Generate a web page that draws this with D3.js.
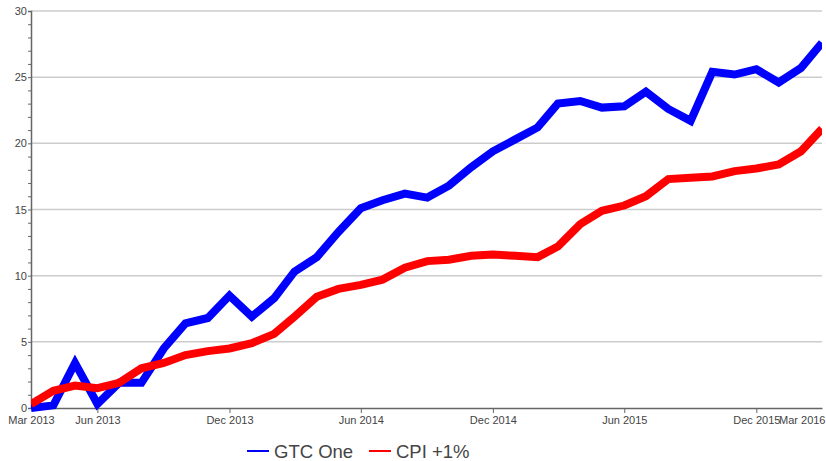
<!DOCTYPE html>
<html>
<head>
<meta charset="utf-8">
<script src="https://cdn.jsdelivr.net/npm/d3@7"></script>
<style>
  body { margin: 0; background: #fff; }
  svg { display: block; font-family: "Liberation Sans", Arial, sans-serif; }
</style>
</head>
<body>
<div id="chart"></div>
<script>
// monthly values, Mar 2013 .. Mar 2016
const startMonth = new Date(2013, 2, 1);
const gtcOne = [0.0, 0.2, 3.4, 0.3, 1.9, 1.9, 4.5, 6.4, 6.8, 8.5, 6.9, 8.3, 10.3, 11.4, 13.3, 15.1,
  15.7, 16.2, 15.9, 16.8, 18.2, 19.4, 20.3, 21.2, 23.0, 23.2, 22.7, 22.8, 23.9, 22.6, 21.7,
  25.4, 25.2, 25.6, 24.6, 25.7, 27.6];
const cpiPlus1 = [0.3, 1.3, 1.7, 1.5, 1.9, 3.0, 3.4, 4.0, 4.3, 4.5, 4.9, 5.6, 6.9, 8.4, 9.0, 9.3,
  9.7, 10.6, 11.1, 11.2, 11.5, 11.6, 11.5, 11.4, 12.2, 13.9, 14.9, 15.3, 16.0, 17.3, 17.4,
  17.5, 17.9, 18.1, 18.4, 19.4, 21.1];
const seriesNames = ['GTC One', 'CPI +1%'];
const seriesColors = ['#0000ff', '#ff0000'];
const xTickDates = [new Date(2013, 2, 1), new Date(2013, 5, 1), new Date(2013, 11, 1), new Date(2014, 5, 1),
  new Date(2014, 11, 1), new Date(2015, 5, 1), new Date(2015, 11, 1), new Date(2016, 2, 1)];
const yTicks = [0, 5, 10, 15, 20, 25, 30];

const width = 826;
const height = 461;
const plotLeft = 31, plotRight = 822, plotTop = 11, plotBottom = 408;

const months = gtcOne.map((d, i) => new Date(startMonth.getFullYear(), startMonth.getMonth() + i, 1));

const svg = d3.create('svg')
  .attr('width', width)
  .attr('height', height);
d3.select('#chart').append(() => svg.node());

const x = d3.scaleTime()
  .domain([months[0], months[months.length - 1]])
  .range([plotLeft, plotRight]);

const y = d3.scaleLinear()
  .domain([0, 30])
  .range([plotBottom, plotTop]);

// grid lines
svg.append('g')
  .selectAll('line')
  .data(yTicks.filter(d => d > 0))
  .join('line')
  .attr('x1', plotLeft)
  .attr('x2', plotRight)
  .attr('y1', d => y(d))
  .attr('y2', d => y(d))
  .attr('stroke', '#cccccc')
  .attr('stroke-width', 1.5);

// y axis: minor ticks every 1, labels every 5
const yAxis = svg.append('g')
  .attr('transform', `translate(${plotLeft},0)`)
  .call(d3.axisLeft(y).tickValues(d3.range(0, 31)).tickSize(3).tickFormat(d => yTicks.includes(d) ? d : ''));
yAxis.select('.domain').attr('stroke', '#666').attr('stroke-width', 1.5);
yAxis.selectAll('.tick line').attr('stroke', '#666');
yAxis.selectAll('.tick text')
  .attr('x', -4)
  .attr('fill', '#444')
  .style('font-size', '11px')
  .style('font-family', '"Liberation Sans", Arial, sans-serif');

// x axis
const xAxis = svg.append('g')
  .attr('transform', `translate(0,${plotBottom})`)
  .call(d3.axisBottom(x).tickValues(xTickDates).tickSize(5).tickSizeOuter(0).tickFormat(d3.timeFormat('%b %Y')));
xAxis.select('.domain').attr('stroke', '#666').attr('stroke-width', 1.5);
xAxis.selectAll('.tick line').attr('stroke', '#666');
xAxis.selectAll('.tick text')
  .attr('y', 8)
  .attr('fill', '#444')
  .style('font-size', '11px')
  .style('font-family', '"Liberation Sans", Arial, sans-serif');
xAxis.selectAll('.tick')
  .filter((d, i) => i === 0 || i === xTickDates.length - 1)
  .select('line').remove();
xAxis.selectAll('.tick')
  .filter((d, i) => i === xTickDates.length - 1)
  .select('text').attr('text-anchor', 'end').attr('x', 3);

// lines
svg.append('clipPath').attr('id', 'plot')
  .append('rect')
  .attr('x', plotLeft).attr('y', 0)
  .attr('width', plotRight - plotLeft).attr('height', plotBottom + 10);

const line = d3.line()
  .x((d, i) => x(months[i]))
  .y(d => y(d));

const plot = svg.append('g').attr('clip-path', 'url(#plot)');
[gtcOne, cpiPlus1].forEach((values, k) => {
  plot.append('path')
    .datum(values)
    .attr('fill', 'none')
    .attr('stroke', seriesColors[k])
    .attr('stroke-width', 8)
    .attr('stroke-linejoin', 'miter')
    .attr('d', line);
});

// legend
const legend = svg.append('g');
const legendX = [247, 369];
seriesNames.forEach((name, k) => {
  legend.append('line')
    .attr('x1', legendX[k]).attr('x2', legendX[k] + 22)
    .attr('y1', 451).attr('y2', 451)
    .attr('stroke', seriesColors[k])
    .attr('stroke-width', 2);
  legend.append('text')
    .attr('x', legendX[k] + 27)
    .attr('y', 458)
    .attr('fill', '#444')
    .style('font-size', '18.5px')
    .text(name);
});
</script>
</body>
</html>
